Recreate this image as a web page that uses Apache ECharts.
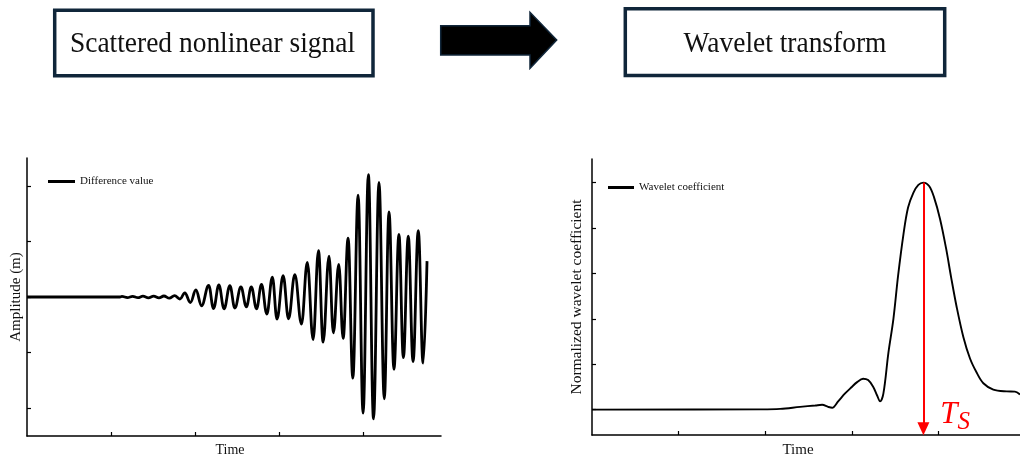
<!DOCTYPE html>
<html>
<head>
<meta charset="utf-8">
<script src="https://cdn.jsdelivr.net/npm/echarts@6/dist/echarts.min.js"></script>
<style>
html,body{margin:0;padding:0;background:#fff;}
#c{width:1020px;height:463px;}
</style>
</head>
<body>
<div id="c"></div>
<script>
// ---------- data ----------
const headerLeft = 'Scattered nonlinear signal';
const headerRight = 'Wavelet transform';
const legendLeft = 'Difference value';
const legendRight = 'Wavelet coefficient';
const xAxisName = 'Time';
const yNameLeft = 'Amplitude (m)';
const yNameRight = 'Normalized wavelet coefficient';
const peakLabelMain = 'T';
const peakLabelSub = 'S';

// scattered nonlinear signal (time, amplitude) – extrema of the oscillation
const timeA = [0, 11.05, 11.28, 11.94, 12.55, 13.18, 13.78, 14.43, 15.05, 15.68, 16.27, 16.92, 17.54,
  18.17, 18.76, 19.42, 20.07, 20.75, 21.59, 22.17, 22.80, 23.42, 24.11, 24.70, 25.42, 26.07, 26.66,
  27.28, 27.87, 28.50, 29.16, 29.71, 30.44, 31.08, 31.83, 32.62, 33.31, 34.00, 34.64, 35.19, 35.89,
  36.41, 37.05, 37.57, 38.16, 38.72, 39.35, 39.94, 40.57, 41.18, 41.83, 42.46, 43.02, 43.61, 44.20,
  44.73, 45.31, 45.88, 46.50, 47.07, 47.54];
const diffValue = [0, 0, 0.01, -0.01, 0.012, -0.012, 0.014, -0.014, 0.016, -0.016, 0.018, -0.02, 0.025,
  -0.036, 0.072, -0.099, 0.126, -0.157, 0.207, -0.207, 0.216, -0.211, 0.202, -0.198, 0.180, -0.175, 0.180,
  -0.211, 0.225, -0.306, 0.355, -0.396, 0.382, -0.391, 0.400, -0.486, 0.622, -0.766, 0.832, -0.811, 0.735,
  -0.645, 0.586, -0.744, 1.06, -1.46, 1.83, -2.09, 2.20, -2.19, 2.06, -1.83, 1.53, -1.30, 1.125,
  -1.09, 1.095, -1.16, 1.195, -1.19, 0.645];

// wavelet coefficient (time, normalized value)
const timeB = [0, 19.41, 21.72, 24.02, 25.76, 26.56, 27.25, 27.72, 28.41, 29.21, 29.91, 30.60, 31.29,
  31.87, 32.45, 32.91, 33.25, 33.63, 34.21, 34.79, 35.33, 35.94, 36.48, 37.09, 37.67, 38.25, 38.91,
  39.48, 40.17, 40.87, 41.44, 42.10, 42.86, 43.63, 44.41, 45.17, 46.32, 47.87, 48.82, 49.40];
const coefB = [0, 0.001, 0.003, 0.012, 0.018, 0.021, 0.012, 0.008, 0.036, 0.071, 0.097, 0.121, 0.136,
  0.130, 0.101, 0.062, 0.036, 0.07, 0.25, 0.40, 0.59, 0.77, 0.89, 0.955, 0.99, 1.0, 0.985,
  0.935, 0.84, 0.71, 0.585, 0.45, 0.32, 0.225, 0.162, 0.116, 0.088, 0.080, 0.079, 0.066];

// peak time marked by the red arrow
const peakTime = 38.25;
const peakValue = 1.0;

// axis ranges and tick positions
const xRangeA = [0, 49.2];
const yRangeA = [-2.5, 2.5];
const xRangeB = [0, 49.4];
const yRangeB = [-0.112, 1.104];
const xTicks = [10, 20, 30, 40];
const yTicksA = [-2, -1, 0, 1, 2];
const yTicksB = [0, 0.2, 0.4, 0.6, 0.8, 1.0];

// ---------- chart ----------
const SERIF = '"Liberation Serif", "Times New Roman", serif';
const NAVY = '#10263a';
const chart = echarts.init(document.getElementById('c'), null, {renderer: 'canvas'});

function axisCommon(ticks) {
  return {
    axisLine: {show: true, onZero: false, lineStyle: {color: '#000', width: 1.5}},
    axisTick: {show: true, inside: true, length: 4, customValues: ticks, lineStyle: {color: '#000', width: 1.2}},
    axisLabel: {show: false},
    splitLine: {show: false}
  };
}

const option = {
  animation: false,
  backgroundColor: '#fff',
  grid: [
    {left: 27, top: 158, width: 414, height: 278, containLabel: false},
    {left: 592, top: 159, width: 428, height: 280, containLabel: false}
  ],
  xAxis: [
    Object.assign({type: 'value', gridIndex: 0, min: xRangeA[0], max: xRangeA[1],
      name: xAxisName, nameLocation: 'middle', nameGap: 7,
      nameTextStyle: {fontFamily: SERIF, fontSize: 14, color: '#111', padding: [0, 8, 0, 0]}}, axisCommon(xTicks)),
    Object.assign({type: 'value', gridIndex: 1, min: xRangeB[0], max: xRangeB[1],
      name: xAxisName, nameLocation: 'middle', nameGap: 8,
      nameTextStyle: {fontFamily: SERIF, fontSize: 15, color: '#111', padding: [0, 16, 0, 0]}}, axisCommon(xTicks))
  ],
  yAxis: [
    Object.assign({type: 'value', gridIndex: 0, min: yRangeA[0], max: yRangeA[1],
      name: yNameLeft, nameLocation: 'middle', nameRotate: 90, nameGap: 3,
      nameTextStyle: {fontFamily: SERIF, fontSize: 15, color: '#111'}}, axisCommon(yTicksA)),
    Object.assign({type: 'value', gridIndex: 1, min: yRangeB[0], max: yRangeB[1],
      name: yNameRight, nameLocation: 'middle', nameRotate: 90, nameGap: 7,
      nameTextStyle: {fontFamily: SERIF, fontSize: 15.5, color: '#111'}}, axisCommon(yTicksB))
  ],
  legend: [
    {data: [legendLeft], left: 48, top: 176, padding: 0, itemWidth: 27, itemHeight: 3, icon: 'rect',
      itemStyle: {color: '#000'}, textStyle: {fontFamily: SERIF, fontSize: 11, color: '#111'}},
    {data: [legendRight], left: 608, top: 182, padding: 0, itemWidth: 26, itemHeight: 3, icon: 'rect',
      itemStyle: {color: '#000'}, textStyle: {fontFamily: SERIF, fontSize: 11, color: '#111'}}
  ],
  series: [
    {
      name: legendLeft, type: 'line', xAxisIndex: 0, yAxisIndex: 0,
      data: timeA.map((t, i) => [t, diffValue[i]]),
      showSymbol: false, symbol: 'none', smooth: 0.4, smoothMonotone: 'x',
      color: '#000', lineStyle: {color: '#000', width: 2.8}
    },
    {
      name: legendRight, type: 'line', xAxisIndex: 1, yAxisIndex: 1,
      data: timeB.map((t, i) => [t, coefB[i]]),
      showSymbol: false, symbol: 'none', smooth: 0.35,
      color: '#000', lineStyle: {color: '#000', width: 1.9},
      markLine: {
        silent: true, animation: false,
        symbol: ['none', 'triangle'], symbolSize: [12, 13],
        label: {show: false},
        lineStyle: {color: '#ff0000', width: 2, type: 'solid'},
        data: [[{coord: [peakTime, peakValue]}, {coord: [peakTime, yRangeB[0] + 0.028]}]]
      },
      markPoint: {
        silent: true, animation: false,
        symbol: 'circle', symbolSize: 0,
        data: [{coord: [peakTime + 3.65, yRangeB[0] + 0.09]}],
        label: {
          show: true, position: 'inside',
          formatter: '{t|' + peakLabelMain + '}{s|' + peakLabelSub + '}',
          rich: {
            t: {fontFamily: SERIF, fontStyle: 'italic', fontSize: 31, color: '#ff0000'},
            s: {fontFamily: SERIF, fontStyle: 'italic', fontSize: 25, color: '#ff0000', padding: [16, 0, 0, 0]}
          }
        }
      }
    }
  ],
  graphic: [
    {type: 'rect', shape: {x: 54.7, y: 10.3, width: 318.3, height: 65.5},
      style: {fill: '#fff', stroke: NAVY, lineWidth: 3.5}},
    {type: 'rect', shape: {x: 625.3, y: 8.7, width: 319.4, height: 66.8},
      style: {fill: '#fff', stroke: NAVY, lineWidth: 3.5}},
    {type: 'polygon', shape: {points: [[440.7, 25.7], [530, 25.7], [530, 12.3], [556.7, 40], [530, 68.3], [530, 55], [440.7, 55]]},
      style: {fill: '#000', stroke: NAVY, lineWidth: 1.5}},
    {type: 'text', x: 212.5, y: 44, scaleX: 0.915,
      style: {x: 0, y: 0, text: headerLeft, font: '30px ' + SERIF, fill: '#111',
        align: 'center', verticalAlign: 'middle', textAlign: 'center', textVerticalAlign: 'middle'}},
    {type: 'text', x: 785, y: 44, scaleX: 0.915,
      style: {x: 0, y: 0, text: headerRight, font: '30px ' + SERIF, fill: '#111',
        align: 'center', verticalAlign: 'middle', textAlign: 'center', textVerticalAlign: 'middle'}}
  ]
};
chart.setOption(option);
</script>
</body>
</html>
